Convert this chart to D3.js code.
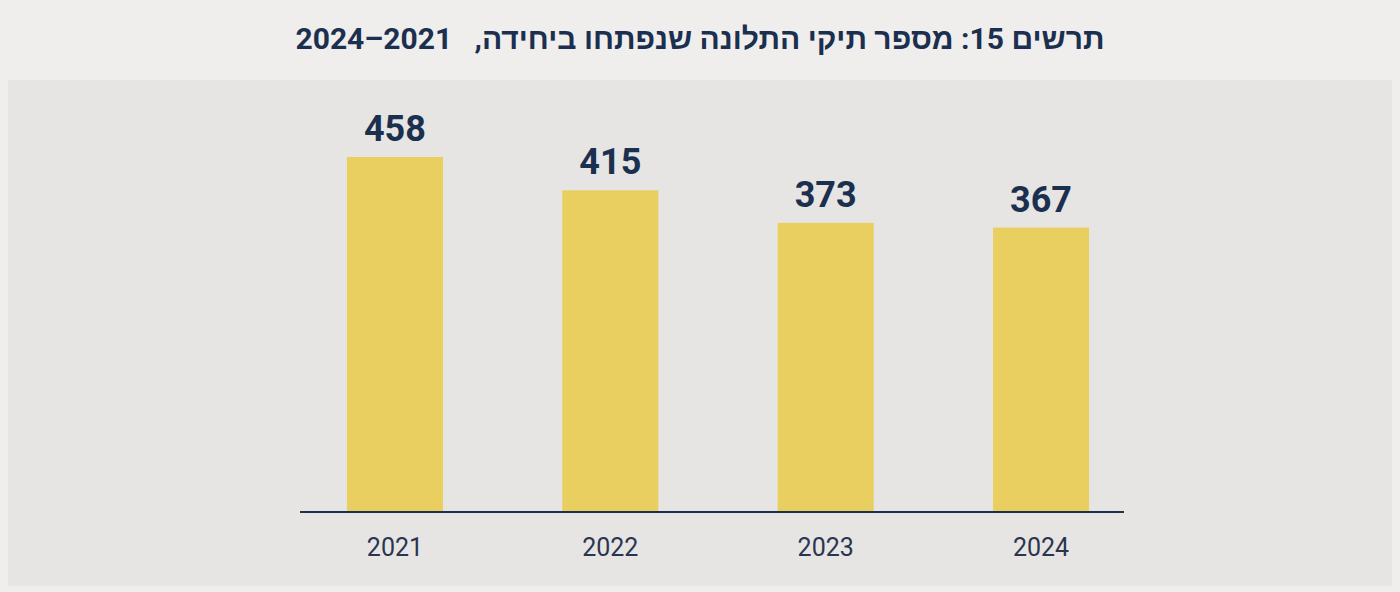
<!DOCTYPE html>
<html><head><meta charset="utf-8">
<script src="https://cdn.jsdelivr.net/npm/d3@7"></script>
<style>
  body { margin: 0; background: #efeeec; }
</style>
</head><body>
<svg id="chart" width="1400" height="592"></svg>
<script>
const years = ["2021", "2022", "2023", "2024"];
const complaints = [458, 415, 373, 367];
const title = "תרשים 15: מספר תיקי התלונה שנפתחו ביחידה,\u00a0\u00a0 2021–2024";

const svg = d3.select("#chart");
const navy = "#1b2f4f";

svg.append("rect").attr("width", 1400).attr("height", 592).attr("fill", "#efeeec");
svg.append("rect").attr("x", 8).attr("y", 80).attr("width", 1384).attr("height", 506).attr("fill", "#e6e5e3");

svg.append("text")
  .attr("x", 700).attr("y", 49)
  .attr("text-anchor", "middle")
  .attr("direction", "rtl")
  .attr("font-family", "'Liberation Sans Narrow', 'Roboto', sans-serif")
  .attr("font-weight", "bold")
  .attr("font-size", 30)
  .attr("fill", navy)
  .text(title);

const x = d3.scaleBand().domain(years).range([306, 1130]).paddingInner(0.554).paddingOuter(0.19);
const y = d3.scaleLinear().domain([0, 458]).range([512, 157]);

svg.selectAll("rect.bar").data(years).join("rect")
  .attr("class", "bar")
  .attr("x", d => x(d))
  .attr("width", x.bandwidth())
  .attr("y", (d, i) => y(complaints[i]))
  .attr("height", (d, i) => y(0) - y(complaints[i]))
  .attr("fill", "#e8cf5f");

svg.selectAll("text.val").data(years).join("text")
  .attr("class", "val")
  .attr("x", d => x(d) + x.bandwidth() / 2)
  .attr("y", (d, i) => y(complaints[i]) - 16)
  .attr("text-anchor", "middle")
  .attr("font-family", "Roboto, sans-serif")
  .attr("font-weight", "bold")
  .attr("font-size", 36)
  .attr("fill", navy)
  .text((d, i) => complaints[i]);

const axis = svg.append("g")
  .attr("transform", "translate(0,512)")
  .call(d3.axisBottom(x).tickSize(0).tickPadding(26));
axis.select(".domain").remove();
axis.append("line").attr("x1", 300).attr("x2", 1124)
  .attr("stroke", navy).attr("stroke-width", 2);
axis.selectAll("text")
  .attr("font-family", "Roboto, sans-serif")
  .attr("font-size", 25)
  .attr("fill", "#2a3550");
</script>
</body></html>
